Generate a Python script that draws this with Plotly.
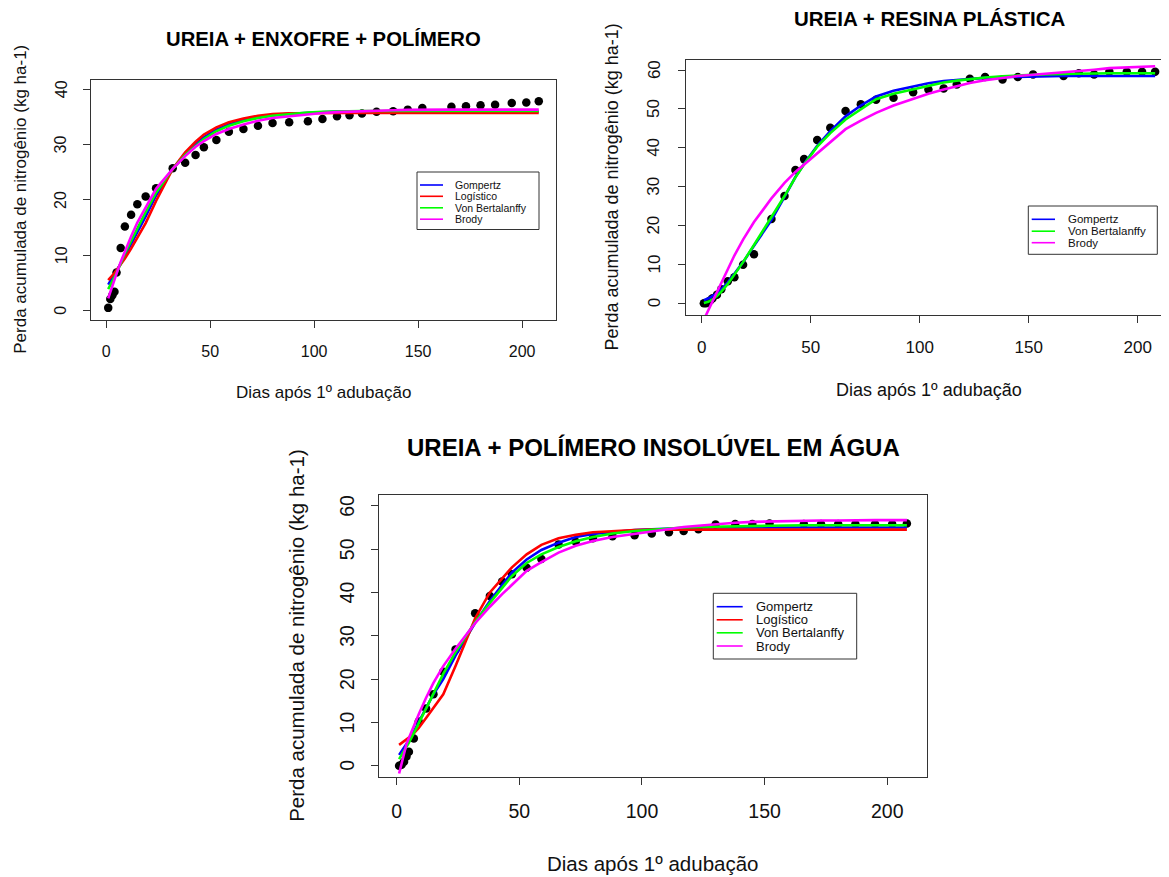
import plotly.graph_objects as go

# ---------------- data ----------------
days = [1, 2, 3, 4, 5, 7, 9, 12, 15, 19, 24, 32, 38, 43, 47, 53, 59, 66, 73, 80, 88,
        97, 104, 111, 117, 123, 130, 138, 145, 152, 166, 173, 180, 187, 195, 202, 208]

# Panel 1: UREIA + ENXOFRE + POLÍMERO
obs_enx = [0.5, 2.1, 2.8, 3.4, 6.9, 11.3, 15.2, 17.3, 19.2, 20.6, 22.1, 25.7, 26.7, 28.1, 29.5,
           30.8, 32.3, 32.8, 33.4, 33.9, 34.0, 34.2, 34.6, 35.1, 35.3, 35.6, 35.9, 36.0, 36.3,
           36.6, 36.8, 36.9, 37.1, 37.2, 37.5, 37.6, 37.8]
gomp_enx = [4.7, 5.3, 5.9, 6.5, 7.1, 8.5, 9.9, 12.0, 14.1, 17.0, 20.8, 25.6, 28.3, 30.1, 31.3,
            32.7, 33.6, 34.4, 34.9, 35.3, 35.55, 35.75, 35.85, 35.95, 35.95, 35.95, 35.95, 35.95,
            35.95, 35.95, 35.95, 35.95, 35.95, 35.95, 35.95, 35.95, 35.95]
log_enx = [5.5, 5.9, 6.3, 6.8, 7.3, 8.3, 9.4, 11.2, 13.1, 15.8, 19.8, 25.6, 28.6, 30.5, 31.8,
           33.1, 34.0, 34.7, 35.2, 35.5, 35.65, 35.7, 35.7, 35.7, 35.7, 35.7, 35.7, 35.7, 35.7,
           35.7, 35.7, 35.7, 35.7, 35.7, 35.7, 35.7, 35.7]
vb_enx = [3.9, 4.6, 5.3, 6.0, 6.8, 8.5, 10.3, 12.6, 14.9, 17.8, 21.3, 25.6, 28.1, 29.8, 31.0,
          32.4, 33.4, 34.2, 34.8, 35.2, 35.5, 35.75, 35.9, 36.0, 36.05, 36.05, 36.05, 36.05,
          36.05, 36.05, 36.05, 36.05, 36.05, 36.05, 36.05, 36.05, 36.05]
brody_enx = [2.2, 3.4, 4.5, 5.6, 6.7, 8.8, 10.7, 13.4, 15.9, 18.7, 22.0, 25.6, 27.9, 29.6, 30.6,
             31.9, 32.8, 33.6, 34.3, 34.8, 35.1, 35.5, 35.7, 35.85, 35.95, 36.05, 36.1, 36.2,
             36.25, 36.3, 36.3, 36.3, 36.3, 36.3, 36.3, 36.3, 36.3]

# Panel 2: UREIA + RESINA PLÁSTICA
obs_res = [0.0, 0.0, 0.3, 0.8, 1.3, 2.2, 3.6, 5.7, 6.7, 9.9, 12.6, 21.7, 27.6, 34.3, 37.1,
           42.0, 45.2, 49.5, 51.2, 52.4, 52.9, 54.3, 55.0, 55.3, 56.3, 57.8, 58.2, 57.6, 58.2,
           58.9, 58.5, 59.2, 58.9, 59.6, 59.6, 59.6, 59.6]
gomp_res = [0.8, 1.0, 1.2, 1.5, 1.9, 2.6, 3.6, 5.4, 7.6, 10.6, 14.8, 21.4, 27.4, 32.5, 35.9,
            40.5, 44.3, 48.1, 50.9, 53.2, 54.7, 55.8, 56.6, 57.2, 57.5, 57.8, 58.0, 58.2, 58.3,
            58.4, 58.5, 58.5, 58.5, 58.5, 58.5, 58.5, 58.5]
vb_res = [0.1, 0.2, 0.4, 0.7, 1.0, 1.9, 3.0, 5.0, 7.3, 10.6, 15.0, 22.0, 27.6, 32.4, 35.8,
          40.3, 43.8, 47.3, 50.0, 52.5, 53.9, 55.0, 56.0, 56.8, 57.3, 57.7, 58.1, 58.4, 58.6,
          58.8, 59.0, 59.1, 59.1, 59.2, 59.2, 59.2, 59.2]
brody_res = [-4.2, -3.0, -1.8, -0.6, 0.6, 2.9, 5.3, 8.9, 12.3, 16.4, 20.9, 27.0, 31.0, 33.8,
             35.7, 38.8, 41.6, 44.8, 47.0, 49.0, 50.9, 52.7, 53.9, 55.0, 55.9, 56.7, 57.4, 58.0,
             58.5, 58.8, 59.4, 59.8, 60.1, 60.5, 60.7, 60.9, 61.0]

# Panel 3: UREIA + POLÍMERO INSOLÚVEL EM ÁGUA
obs_ins = [0.0, 0.2, 0.9, 2.1, 3.2, 6.3, 10.2, 13.2, 16.5, 21.7, 26.8, 35.2, 39.2, 42.5, 44.2,
           45.7, 47.7, 51.1, 51.7, 52.5, 53.0, 53.2, 53.6, 53.9, 54.2, 54.6, 55.7, 55.8, 55.8,
           55.9, 55.8, 55.8, 55.8, 55.8, 55.8, 55.8, 55.9]
gomp_ins = [2.5, 3.3, 4.1, 5.0, 5.9, 7.9, 10.0, 13.3, 16.5, 20.0, 25.4, 33.0, 38.0, 41.7, 44.6,
            47.6, 49.8, 51.5, 52.8, 53.5, 54.0, 54.4, 54.6, 54.8, 54.9, 55.0, 55.0, 55.0, 55.0,
            55.0, 55.0, 55.0, 55.0, 55.0, 55.0, 55.0, 55.0]
log_ins = [4.8, 5.2, 5.6, 6.1, 6.5, 7.5, 8.7, 11.0, 13.4, 16.5, 23.0, 34.0, 40.0, 43.2, 45.8,
           48.8, 51.0, 52.5, 53.3, 53.9, 54.2, 54.4, 54.5, 54.5, 54.5, 54.5, 54.5, 54.5, 54.5,
           54.5, 54.5, 54.5, 54.5, 54.5, 54.5, 54.5, 54.5]
vb_ins = [1.5, 2.4, 3.3, 4.3, 5.3, 7.5, 9.8, 13.3, 16.8, 21.2, 26.2, 33.2, 37.6, 40.9, 43.8,
          46.8, 48.8, 50.5, 51.8, 52.8, 53.6, 54.2, 54.5, 54.8, 55.0, 55.1, 55.2, 55.3, 55.3,
          55.4, 55.5, 55.5, 55.5, 55.5, 55.5, 55.5, 55.5]
brody_ins = [-1.8, 0.4, 2.7, 5.0, 6.4, 9.2, 11.9, 15.7, 19.1, 23.0, 27.0, 32.9, 36.7, 39.6,
             41.8, 45.0, 47.0, 49.2, 50.8, 51.9, 52.8, 53.5, 54.2, 54.7, 55.1, 55.4, 55.8,
             56.1, 56.3, 56.4, 56.5, 56.6, 56.6, 56.7, 56.7, 56.7, 56.7]

titles = ["UREIA + ENXOFRE + POLÍMERO", "UREIA + RESINA PLÁSTICA",
          "UREIA + POLÍMERO INSOLÚVEL EM ÁGUA"]
x_label = "Dias após 1º adubação"
y_label = "Perda acumulada de nitrogênio (kg ha-1)"
x_ticks = [0, 50, 100, 150, 200]
y_ticks_1 = [0, 10, 20, 30, 40]
y_ticks_23 = [0, 10, 20, 30, 40, 50, 60]

model_names = ["Gompertz", "Logístico", "Von Bertalanffy", "Brody"]
model_colors = {"Gompertz": "#0000FF", "Logístico": "#FF0000",
                "Von Bertalanffy": "#00FF00", "Brody": "#FF00FF"}

panels = [
    dict(obs=obs_enx, fits={"Gompertz": gomp_enx, "Logístico": log_enx,
                            "Von Bertalanffy": vb_enx, "Brody": brody_enx}),
    dict(obs=obs_res, fits={"Gompertz": gomp_res, "Von Bertalanffy": vb_res,
                            "Brody": brody_res}),
    dict(obs=obs_ins, fits={"Gompertz": gomp_ins, "Logístico": log_ins,
                            "Von Bertalanffy": vb_ins, "Brody": brody_ins}),
]

# ---------------- layout geometry (page pixels) ----------------
PAGE_W, PAGE_H = 1169, 877
OFF = 8  # default body margin of the html page
W, H = PAGE_W - OFF, PAGE_H - OFF
FONT = "Liberation Sans, Arial, sans-serif"


def fx(X):
    return (X - OFF) / W


def fy(Y):
    return 1 - (Y - OFF) / H


geo = [
    dict(box=(91, 80, 556, 319.5), xr=[-7.28, 216.28], yr=[-1.6, 41.65], yt=y_ticks_1,
         tick=16, lab=17, title=20.3, title_xy=(323.5, 39), xlab_y=393, ylab_x=21,
         ytick_x=61,
         leg=dict(box=(417, 172, 539, 229.5), line=(420, 443), text=453,
                  rows=[185, 196.3, 207.8, 219.2], size=10.5), mirror_y=True),
    dict(box=(685.8, 60, PAGE_W, 315), xr=[-7.28, (PAGE_W - 701.7) / 2.18], yr=[-3.0, 62.6],
         yt=y_ticks_23, tick=17, lab=18, title=20.5, title_xy=(929.5, 18.5), xlab_y=390,
         ylab_x=611, ytick_x=654,
         leg=dict(box=(1028.3, 206, 1157.3, 254.3), line=(1031.7, 1055), text=1066,
                  rows=[219.3, 231.2, 242.7], size=11.5), mirror_y=False, xcenter=929.4),
    dict(box=(378.8, 495, 927.2, 776.7), xr=[-7.28, 216.28], yr=[-2.54, 62.5],
         yt=y_ticks_23, tick=19.5, lab=20.5, title=24, title_xy=(653, 447), xlab_y=863,
         ylab_x=297, ytick_x=347,
         leg=dict(box=(713.3, 593.3, 856.7, 659), line=(716.7, 742.7), text=754.3,
                  rows=[606.7, 619.8, 632.8, 646], size=13), mirror_y=True),
]

fig = go.Figure()
layout = dict(width=W, height=H, margin=dict(l=0, r=0, t=0, b=0),
              paper_bgcolor="white", plot_bgcolor="white", showlegend=False,
              font=dict(family=FONT, color="black"))
shapes = []
annotations = []

for i, (p, g) in enumerate(zip(panels, geo)):
    n = "" if i == 0 else str(i + 1)
    xa, ya = "x" + n, "y" + n
    # points first, then fitted curves on top
    fig.add_trace(go.Scatter(x=days, y=p["obs"], mode="markers", xaxis=xa, yaxis=ya,
                             marker=dict(color="black", size=8.5), name="Observado"))
    for name in model_names:
        if name in p["fits"]:
            fig.add_trace(go.Scatter(x=days, y=p["fits"][name], mode="lines", xaxis=xa,
                                     yaxis=ya, name=name,
                                     line=dict(color=model_colors[name], width=2.6)))
    x0, y0, x1, y1 = g["box"]
    axis_common = dict(showgrid=False, zeroline=False, showline=True, linecolor="#333333",
                       linewidth=1, ticks="outside", ticklen=7, tickwidth=1,
                       tickcolor="#333333", tickfont=dict(size=g["tick"], family=FONT,
                                                          color="#111111"))
    layout["xaxis" + n] = dict(domain=[fx(x0), min(1.0, fx(x1))], range=g["xr"], anchor=ya,
                               tickvals=x_ticks, mirror=True, ticklabelstandoff=10,
                               **axis_common)
    layout["yaxis" + n] = dict(domain=[fy(y1), fy(y0)], range=g["yr"], anchor=xa,
                               tickvals=g["yt"], showticklabels=False,
                               mirror=g["mirror_y"], **axis_common)
    # vertical (R style, las=0) y tick labels, one rotated text per tick value
    for v in g["yt"]:
        ypix = y1 - (v - g["yr"][0]) / (g["yr"][1] - g["yr"][0]) * (y1 - y0)
        annotations.append(dict(text=str(v), x=fx(g["ytick_x"]), y=fy(ypix), xref="paper",
                                yref="paper", showarrow=False, textangle=-90,
                                xanchor="center", yanchor="middle",
                                font=dict(size=g["tick"], family=FONT, color="#111111")))
    xc = g.get("xcenter", (x0 + x1) / 2)
    yc = (y0 + y1) / 2
    # titles
    annotations.append(dict(text="<b>%s</b>" % titles[i], x=fx(g["title_xy"][0]),
                            y=fy(g["title_xy"][1]), xref="paper", yref="paper",
                            showarrow=False, xanchor="center", yanchor="middle",
                            font=dict(size=g["title"], family=FONT, color="black")))
    annotations.append(dict(text=x_label, x=fx(xc), y=fy(g["xlab_y"]), xref="paper",
                            yref="paper", showarrow=False, xanchor="center",
                            yanchor="middle",
                            font=dict(size=g["lab"], family=FONT, color="#111111")))
    annotations.append(dict(text=y_label, x=fx(g["ylab_x"]), y=fy(yc), xref="paper",
                            yref="paper", showarrow=False, textangle=-90,
                            xanchor="center", yanchor="middle",
                            font=dict(size=g["lab"], family=FONT, color="#111111")))
    # legend box drawn like R's legend()
    lg = g["leg"]
    bx0, by0, bx1, by1 = lg["box"]
    shapes.append(dict(type="rect", xref="paper", yref="paper", x0=fx(bx0), x1=fx(bx1),
                       y0=fy(by1), y1=fy(by0), line=dict(color="#333333", width=1),
                       fillcolor="white", layer="above"))
    names_here = [m for m in model_names if m in p["fits"]]
    for name, ry in zip(names_here, lg["rows"]):
        shapes.append(dict(type="line", xref="paper", yref="paper", x0=fx(lg["line"][0]),
                           x1=fx(lg["line"][1]), y0=fy(ry), y1=fy(ry),
                           line=dict(color=model_colors[name], width=1.6), layer="above"))
        annotations.append(dict(text=name, x=fx(lg["text"]), y=fy(ry), xref="paper",
                                yref="paper", showarrow=False, xanchor="left",
                                yanchor="middle",
                                font=dict(size=lg["size"], family=FONT, color="#111111")))

layout["shapes"] = shapes
layout["annotations"] = annotations
fig.update_layout(**layout)
fig.write_html("out.html")
